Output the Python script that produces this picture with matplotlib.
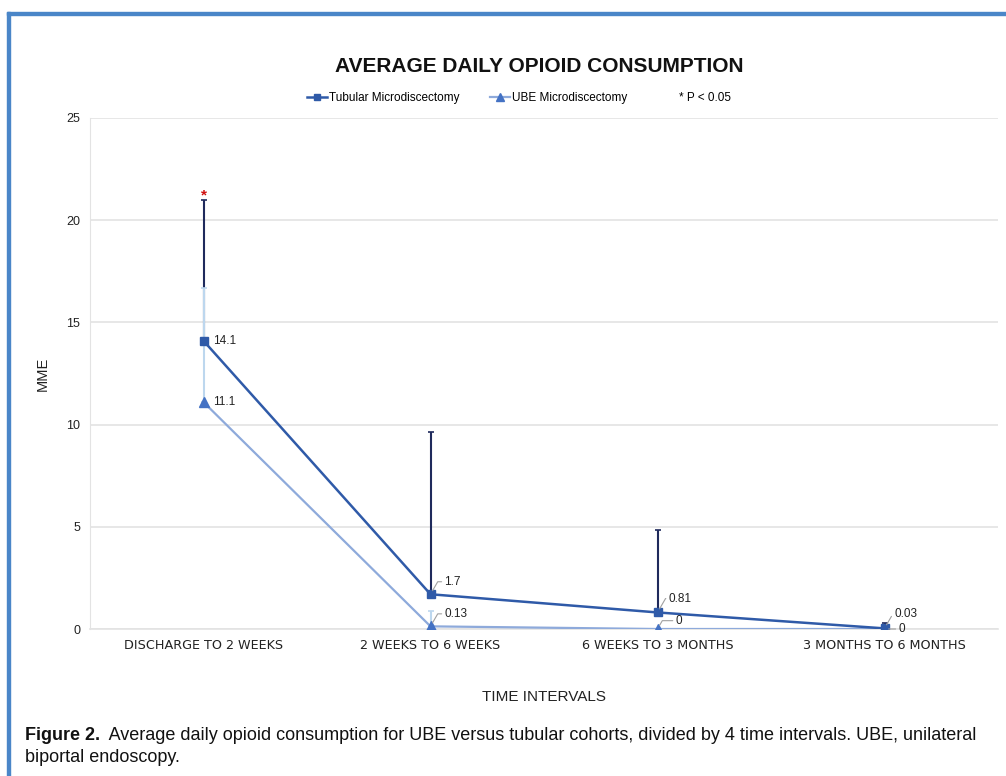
import matplotlib.pyplot as plt
from matplotlib.lines import Line2D
from matplotlib.patches import Rectangle

## Données
intervals = ["DISCHARGE TO 2 WEEKS", "2 WEEKS TO 6 WEEKS",
             "6 WEEKS TO 3 MONTHS", "3 MONTHS TO 6 MONTHS"]
tubular = [14.1, 1.7, 0.81, 0.03]
tubular_err = [6.9, 7.95, 4.05, 0.27]
ube = [11.1, 0.13, 0, 0]
ube_err = [5.6, 0.75, 0, 0]
tubular_labels = ["14.1", "1.7", "0.81", "0.03"]
ube_labels = ["11.1", "0.13", "0", "0"]

## Couleurs
c_tub = "#2f5aa8"
c_tub_err = "#1f2a5c"
c_ube = "#8eaadb"
c_ube_mk = "#4472c4"
c_ube_err = "#bdd7ee"
c_txt = "#222222"

plt.rcParams['font.family'] = ['Liberation Sans', 'DejaVu Sans']

fig = plt.figure(figsize=(10.06, 7.76), dpi=100)

## Cadre bleu (gauche et haut)
fig.patches.append(Rectangle((7 / 1006, -0.05), 3 / 1006, 1.05 - 12 / 776,
                             transform=fig.transFigure, color="#4a86c8", zorder=0))
fig.patches.append(Rectangle((7 / 1006, 1 - 14.5 / 776), 1.0, 3 / 776,
                             transform=fig.transFigure, color="#4a86c8", zorder=0))

ax = fig.add_axes([90 / 1006, 147 / 776, 908 / 1006, 511 / 776])
x = list(range(len(intervals)))

## Barres d'erreur (positives seulement)
ax.errorbar(x, tubular, yerr=[[0] * 4, tubular_err], fmt="none",
            ecolor=c_tub_err, elinewidth=1.5, capsize=2.5, capthick=1.2, zorder=3)
ube_x = [i for i in x if ube_err[i] > 0]
ax.errorbar(ube_x, [ube[i] for i in ube_x], yerr=[[0] * len(ube_x), [ube_err[i] for i in ube_x]],
            fmt="none", ecolor=c_ube_err, elinewidth=1.5, capsize=2.5, capthick=1.2, zorder=3)

## Courbes
ax.plot(x, ube, color=c_ube, lw=1.6, marker="^", ms=6.5,
        mfc=c_ube_mk, mec=c_ube_mk, zorder=4)
ax.plot(x, tubular, color=c_tub, lw=1.8, marker="s", ms=6,
        mfc=c_tub, mec=c_tub, zorder=5)

## Étiquettes de données
lead = dict(arrowstyle="-", color="#a0a0a0", lw=0.8, shrinkA=0, shrinkB=3,
            connectionstyle="angle,angleA=0,angleB=60,rad=0")
lab_kw = dict(fontsize=8.5, color=c_txt, va="center", zorder=6)
ax.annotate(tubular_labels[0], (x[0], tubular[0]), xytext=(7, 0), textcoords="offset points", **lab_kw)
ax.annotate(ube_labels[0], (x[0], ube[0]), xytext=(7, 0), textcoords="offset points", **lab_kw)
ax.annotate(tubular_labels[1], (x[1], tubular[1]), xytext=(10, 9), textcoords="offset points",
            arrowprops=lead, **lab_kw)
ax.annotate(ube_labels[1], (x[1], ube[1]), xytext=(10, 9), textcoords="offset points",
            arrowprops=lead, **lab_kw)
ax.annotate(tubular_labels[2], (x[2], tubular[2]), xytext=(8, 10), textcoords="offset points",
            arrowprops=lead, **lab_kw)
ax.annotate(ube_labels[2], (x[2], ube[2]), xytext=(13, 6), textcoords="offset points",
            arrowprops=lead, **lab_kw)
ax.annotate(tubular_labels[3], (x[3], tubular[3]), xytext=(7, 10), textcoords="offset points",
            arrowprops=lead, **lab_kw)
ax.annotate(ube_labels[3], (x[3], ube[3]), xytext=(10, 0), textcoords="offset points",
            arrowprops=dict(arrowstyle="-", color="#a0a0a0", lw=0.8, shrinkA=0, shrinkB=3), **lab_kw)

## Astérisque (p < 0.05)
ax.annotate("*", (x[0], tubular[0] + tubular_err[0]), xytext=(0, -2), textcoords="offset points",
            ha="center", va="bottom", color="#d01010", fontsize=11, fontweight="bold")

## Axes
ax.set_xlim(-0.5, 3.5)
ax.set_ylim(0, 25)
ax.set_yticks([0, 5, 10, 15, 20, 25])
ax.set_xticks(x)
ax.set_xticklabels(intervals, fontsize=9.2, family="DejaVu Sans")
ax.tick_params(axis="both", length=0, colors=c_txt)
ax.tick_params(axis="y", pad=7, labelsize=9)
ax.tick_params(axis="x", pad=7)
ax.grid(axis="y", color="#e3e3e3", lw=1.2)
ax.set_axisbelow(True)
for s in ["top", "right"]:
    ax.spines[s].set_visible(False)
ax.spines["left"].set_color("#e3e3e3")
ax.spines["bottom"].set_color("#e3e3e3")
ax.spines["bottom"].set_linewidth(1.2)

ax.set_ylabel("MME", fontsize=10.5, labelpad=12, color=c_txt)
fig.text(544 / 1006, 1 - 697 / 776, "TIME INTERVALS", ha="center", va="center",
         fontsize=11, color=c_txt)

## Titre et légende
fig.text(539 / 1006, 1 - 66 / 776, "AVERAGE DAILY OPIOID CONSUMPTION", ha="center", va="center",
         fontsize=15, fontweight="bold", color="#111111")
handles = [Line2D([], [], color=c_tub, lw=1.8, marker="s", ms=5, mfc=c_tub, mec=c_tub),
           Line2D([], [], color=c_ube, lw=1.6, marker="^", ms=5.5, mfc=c_ube_mk, mec=c_ube_mk),
           Line2D([], [], color="none")]
fig.legend(handles, ["Tubular Microdiscectomy", "UBE Microdiscectomy", "* P < 0.05"],
           loc="center", bbox_to_anchor=(519 / 1006, 1 - 98 / 776), ncol=3, frameon=False,
           fontsize=8.5, handlelength=1.7, handletextpad=0.15, columnspacing=2.6)

## Légende de la figure
cap = fig.text(25 / 1006, 1 - 735 / 776, "Figure 2.", fontsize=13, fontweight="bold",
               va="center", color="#111111")
ax.annotate(" \u2009Average daily opioid consumption for UBE versus tubular cohorts, divided by 4 time intervals. UBE, unilateral",
            xy=(1, 0.5), xycoords=cap, va="center", fontsize=13,
            color="#111111", annotation_clip=False)
fig.text(25 / 1006, 1 - 758 / 776, "biportal endoscopy.", fontsize=13, va="center",
         color="#111111")

plt.savefig("out.png", dpi=100)
